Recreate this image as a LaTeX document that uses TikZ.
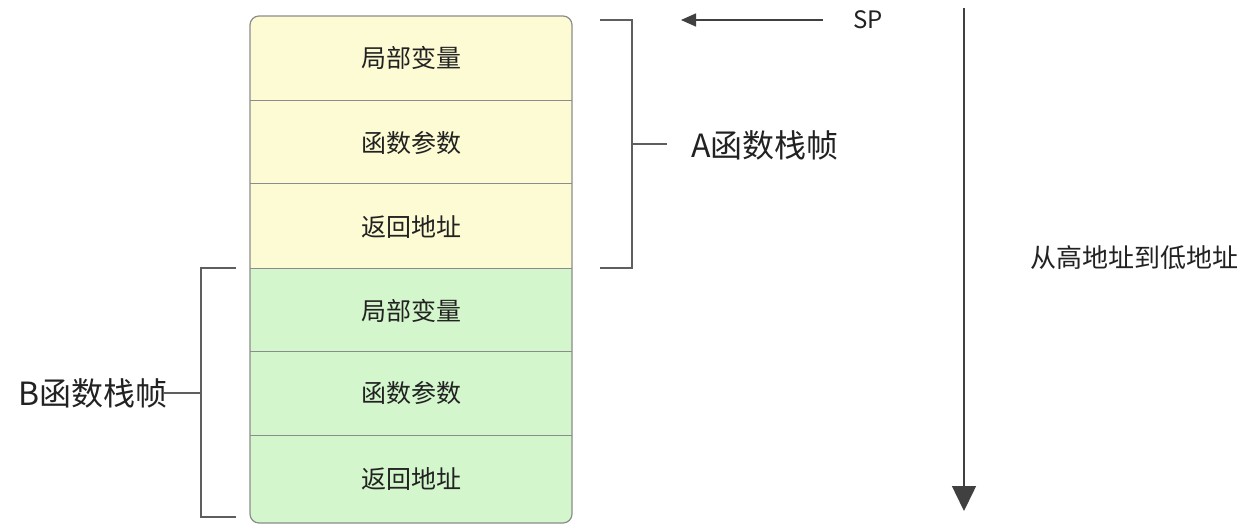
\documentclass[tikz,border=0pt]{standalone}
\usepackage{fontspec}
\setmainfont{Noto Sans CJK SC}
\usetikzlibrary{arrows.meta}
\definecolor{ayellow}{HTML}{FDFBD3}
\definecolor{bgreen}{HTML}{D3F6CC}
\definecolor{cellline}{HTML}{8C8C8C}
\definecolor{brk}{HTML}{5E5E5E}
\definecolor{txt}{HTML}{222222}
\begin{document}
\begin{tikzpicture}[x=1pt,y=-1pt,
  celltext/.style={inner sep=0pt,font=\fontsize{25}{25}\selectfont,text=txt},
  biglabel/.style={inner sep=0pt,font=\fontsize{32}{32}\selectfont,text=txt},
  midlabel/.style={inner sep=0pt,font=\fontsize{24}{24}\selectfont,text=txt},
  sep/.style={draw=cellline,line width=1pt},
  bracket/.style={draw=brk,line width=1.4pt},
  arr/.style={draw=black!75,line width=1.5pt},
]
\useasboundingbox[fill=white] (0,0) rectangle (1248,525);
% frame fills
\fill[ayellow] (250,268) [rounded corners=9pt] -- (250,16) -- (572,16) [sharp corners] -- (572,268) -- cycle;
\fill[bgreen] (250,268) [rounded corners=9pt] -- (250,523) -- (572,523) [sharp corners] -- (572,268) -- cycle;
\draw[sep,line width=1.2pt,rounded corners=9pt] (250,16) rectangle (572,523);
\foreach \yy in {100,183,268,351,435} \draw[sep] (250,\yy) -- (572,\yy);
% cell texts
\node[celltext] (a1) at (411,58) {局部变量};
\node[celltext] (a2) at (411,143) {函数参数};
\node[celltext] (a3) at (411,227) {返回地址};
\node[celltext] (b1) at (411,311) {局部变量};
\node[celltext] (b2) at (411,393) {函数参数};
\node[celltext] (b3) at (411,479) {返回地址};
% A bracket
\draw[bracket] (600,20) -- (632,20) -- (632,268) -- (600,268);
\node[biglabel,anchor=west] (alab) at (691,145) {A函数栈帧};
\coordinate (atick) at (632,144);
\draw[bracket] (atick) -- ([xshift=-24pt]alab.west |- atick);
% B bracket
\draw[bracket] (236,268) -- (201,268) -- (201,517) -- (236,517);
\node[biglabel,anchor=west] (blab) at (18,393) {B函数栈帧};
\coordinate (btick) at (201,393);
\draw[bracket] (btick) -- ([xshift=-4pt]blab.east |- btick);
% SP arrow
\node[midlabel,anchor=west] (sp) at (853,20) {SP};
\coordinate (sptip) at (681,20);
\draw[arr,-{Triangle[length=15pt,width=13pt]}] ([xshift=-30pt]sp.west) -- (sptip);
% direction arrow
\coordinate (dtop) at (964,8);
\coordinate (dbot) at (964,511);
\draw[arr,-{Triangle[length=25pt,width=24pt]}] (dtop) -- (dbot);
\node[midlabel,font=\fontsize{26}{26}\selectfont,anchor=west] (dir) at (1030,258) {从高地址到低地址};
\end{tikzpicture}
\end{document}
